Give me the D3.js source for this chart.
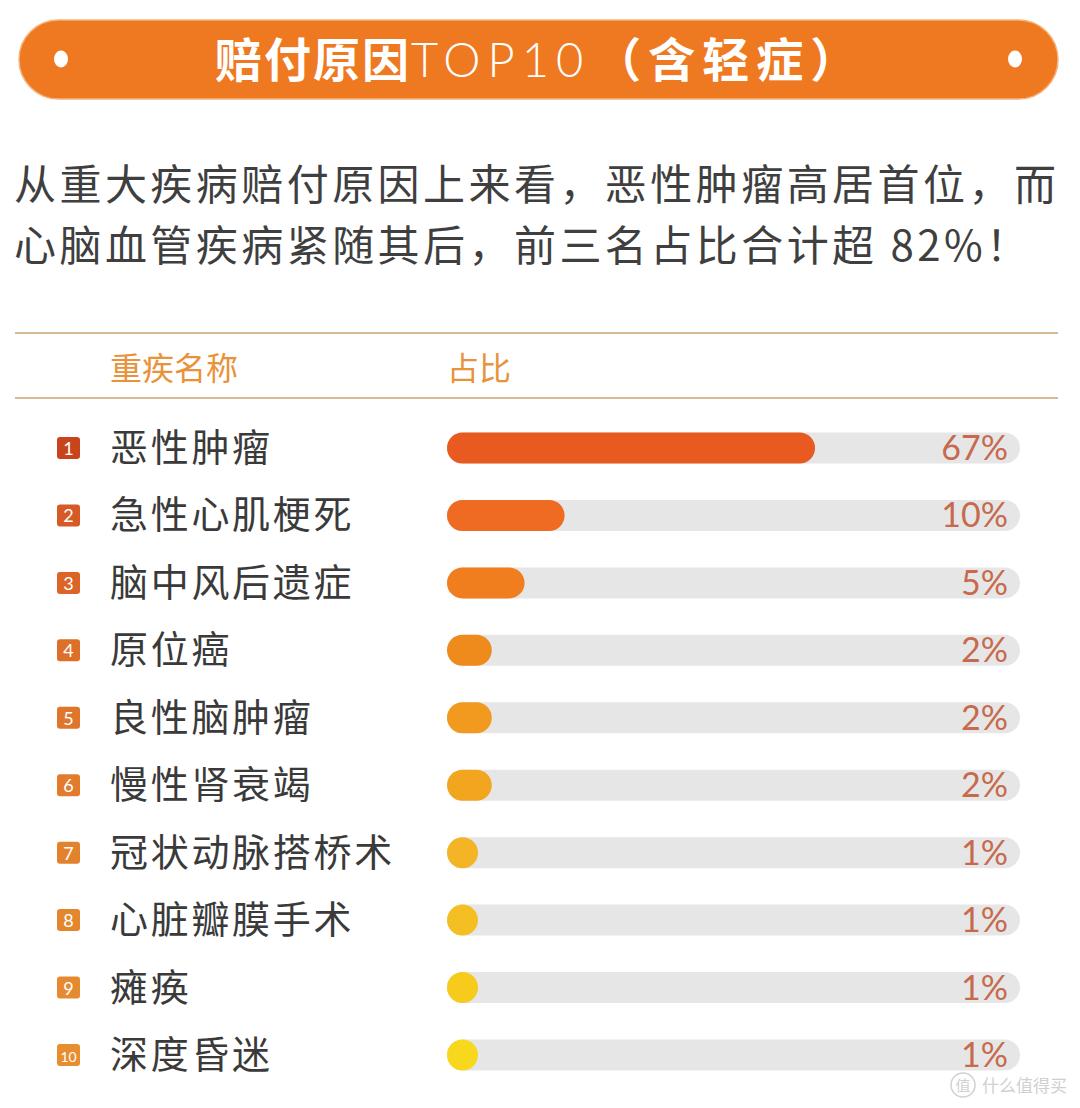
<!DOCTYPE html>
<html>
<head>
<meta charset="utf-8">
<script src="https://cdn.jsdelivr.net/npm/d3@7"></script>
<style>
  html, body { margin: 0; padding: 0; background: #fff; }
  svg { display: block; }
</style>
</head>
<body>
<svg id="chart" width="1080" height="1108"></svg>
<script>
// ---- data ----
const titleCJK1 = "赔付原因";
const titleLatin = "TOP10";
const titleCJK2 = "（含轻症）";
const introLines = [
  "从重大疾病赔付原因上来看，恶性肿瘤高居首位，而",
  "心脑血管疾病紧随其后，前三名占比合计超 82%！"
];
const headers = ["重疾名称", "占比"];
const ranks = [1, 2, 3, 4, 5, 6, 7, 8, 9, 10];
const categories = ["恶性肿瘤", "急性心肌梗死", "脑中风后遗症", "原位癌", "良性脑肿瘤",
                    "慢性肾衰竭", "冠状动脉搭桥术", "心脏瓣膜手术", "瘫痪", "深度昏迷"];
const values = [67, 10, 5, 2, 2, 2, 1, 1, 1, 1];
const valueLabels = ["67%", "10%", "5%", "2%", "2%", "2%", "1%", "1%", "1%", "1%"];
const barColors = ["#E85A1F", "#EE6B21", "#F07E1F", "#EF8B1C", "#F19A1F",
                   "#F2A620", "#F3B426", "#F4BF23", "#F6CB1B", "#F7D81C"];
const badgeColors = ["#C8451C", "#D65A25", "#DB6527", "#DE6F29", "#E0762B",
                     "#E27C2C", "#E3822D", "#E4862E", "#E58A2F", "#E68E30"];

// ---- drawing ----
const svg = d3.select("#chart");
const CJK = "'Noto Sans CJK SC', 'Noto Sans', sans-serif";

// title banner
svg.append("rect")
  .attr("x", 19).attr("y", 20).attr("width", 1039).attr("height", 79)
  .attr("rx", 39.5).attr("fill", "#EF7921")
  .attr("stroke", "#F6B27A").attr("stroke-width", 1.5);
[61, 1015].forEach(cx => {
  svg.append("ellipse").attr("cx", cx).attr("cy", 59).attr("rx", 7).attr("ry", 8.5)
    .attr("fill", "#fff");
});
const title = svg.append("text")
  .attr("x", 215).attr("y", 77)
  .attr("fill", "#fff")
  .attr("font-family", CJK);
title.append("tspan").text(titleCJK1).attr("font-size", 47).attr("font-weight", 700)
  .attr("letter-spacing", 2);
title.append("tspan").text(titleLatin).attr("font-size", 47).attr("font-weight", 300)
  .attr("font-family", "'Lato', 'Noto Sans', sans-serif").attr("letter-spacing", 7);
title.append("tspan").text(titleCJK2).attr("font-size", 47).attr("font-weight", 700)
  .attr("dx", 4).attr("letter-spacing", 7);

// intro paragraph
svg.selectAll("text.intro").data(introLines).join("text")
  .attr("class", "intro")
  .attr("x", 14)
  .attr("y", (d, i) => 200 + i * 61)
  .attr("font-family", CJK)
  .attr("font-size", 42)
  .attr("font-weight", 400)
  .attr("letter-spacing", 3.45)
  .attr("fill", "#3f3f3f")
  .text(d => d);

// header separators
[333, 398].forEach(y => {
  svg.append("line").attr("x1", 15).attr("x2", 1058).attr("y1", y).attr("y2", y)
    .attr("stroke", "#D9B896").attr("stroke-width", 2);
});
svg.append("text").attr("x", 110).attr("y", 380)
  .attr("font-family", CJK).attr("font-size", 32).attr("fill", "#E8923A")
  .text(headers[0]);
svg.append("text").attr("x", 447).attr("y", 380)
  .attr("font-family", CJK).attr("font-size", 32).attr("fill", "#E8923A")
  .text(headers[1]);

// scales
const y = d3.scalePoint().domain(categories).range([448, 1055]);
const x = d3.scalePow().exponent(0.6).domain([0, 100]).range([0, 468]);
const trackX0 = 447, trackX1 = 1020, barH = 31;

const rows = svg.selectAll("g.row")
  .data(categories.map((c, i) => ({ c, i, v: values[i], lab: valueLabels[i], r: ranks[i] })))
  .join("g").attr("class", "row")
  .attr("transform", d => `translate(0,${y(d.c)})`);

// badges
rows.append("rect")
  .attr("x", 57).attr("y", -11).attr("width", 23).attr("height", 22).attr("rx", 3)
  .attr("fill", d => badgeColors[d.i]);
rows.append("text")
  .attr("x", 68.5).attr("y", 7)
  .attr("text-anchor", "middle")
  .attr("font-family", "'Lato', 'Noto Sans', sans-serif")
  .attr("font-size", d => d.r === 10 ? 14 : 18)
  .attr("fill", "#fff")
  .text(d => d.r);

// category labels
rows.append("text")
  .attr("x", 110).attr("y", 13)
  .attr("font-family", CJK).attr("font-size", 38).attr("letter-spacing", 2.7)
  .attr("fill", "#3a3a3a")
  .text(d => d.c);

// tracks
rows.append("rect")
  .attr("x", trackX0).attr("y", -barH / 2)
  .attr("width", trackX1 - trackX0).attr("height", barH)
  .attr("rx", barH / 2).attr("fill", "#E6E6E6");

// value bars
rows.append("rect")
  .attr("x", trackX0).attr("y", -barH / 2)
  .attr("width", d => Math.max(barH, x(d.v)))
  .attr("height", barH)
  .attr("rx", barH / 2)
  .attr("fill", d => barColors[d.i]);

// value labels
rows.append("text")
  .attr("x", 1008).attr("y", 12)
  .attr("text-anchor", "end")
  .attr("font-family", "'Lato', 'Noto Sans', sans-serif")
  .attr("font-size", 34).attr("font-weight", 400)
  .attr("fill", "#C66A4E")
  .text(d => d.lab);

// watermark
const wm = svg.append("g").attr("transform", "translate(963,1085)");
wm.append("circle").attr("r", 12).attr("fill", "none").attr("stroke", "#d0d0d0").attr("stroke-width", 1.5);
wm.append("text").attr("x", 0).attr("y", 6).attr("text-anchor", "middle")
  .attr("font-family", CJK).attr("font-size", 15).attr("fill", "#d0d0d0").text("值");
wm.append("text").attr("x", 19).attr("y", 7)
  .attr("font-family", CJK).attr("font-size", 17).attr("fill", "#d0d0d0").text("什么值得买");
</script>
</body>
</html>
